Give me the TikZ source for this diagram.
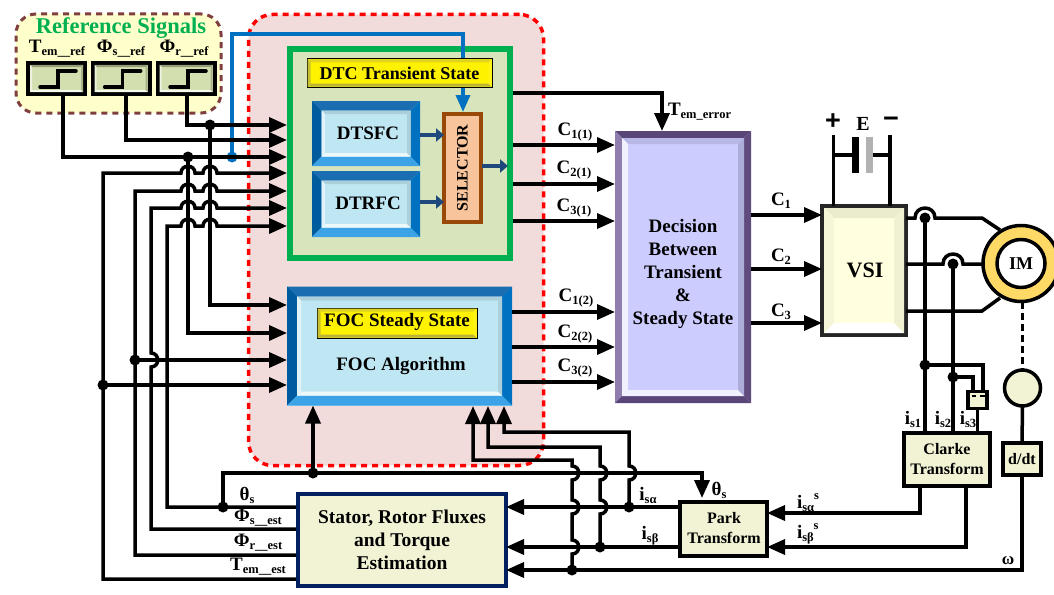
\documentclass[tikz,border=0pt]{standalone}
\usepackage{fontspec}
\setmainfont{Liberation Serif}
\newfontfamily\signfont{Liberation Sans}
\usetikzlibrary{arrows.meta}

\definecolor{zonepink}{HTML}{F2DCDB}
\definecolor{zonecream}{HTML}{FFFFCC}
\definecolor{zonebrown}{HTML}{7F3F3F}
\definecolor{dtcgreen}{HTML}{00B050}
\definecolor{dtcfill}{HTML}{D8E4BC}
\definecolor{stepfill}{HTML}{D3DFAE}
\definecolor{blockcream}{HTML}{F2F2D5}
\definecolor{navy}{HTML}{002060}
\definecolor{skyblue}{HTML}{BFE7F3}
\definecolor{midblue}{HTML}{0070C0}
\definecolor{topblue}{HTML}{1A6DB0}
\definecolor{leftblue}{HTML}{005A9E}
\definecolor{lowblue}{HTML}{3BA3E6}
\definecolor{darkblue}{HTML}{1F497D}
\definecolor{selfill}{HTML}{F8C49C}
\definecolor{selbrown}{HTML}{984807}
\definecolor{lilac}{HTML}{CCCCFF}
\definecolor{dectop}{HTML}{5A4578}
\definecolor{decleft}{HTML}{8F7DB0}
\definecolor{decright}{HTML}{5F4B7D}
\definecolor{ringgold}{HTML}{FFD966}
\definecolor{vsifill}{HTML}{FFFFE0}

\newcommand{\sigtxt}[2]{\mbox{\fontsize{19}{19}\selectfont\bfseries #1\raisebox{-3pt}{\fontsize{12.5}{12.5}\selectfont #2}}}
\newcommand{\hopx}[2]{-- (#1-7,#2) .. controls (#1-7,#2-9) and (#1+7,#2-9) .. (#1+7,#2)}
\newcommand{\hopr}[2]{-- (#1-10,#2) .. controls (#1-10,#2-13.3) and (#1+10,#2-13.3) .. (#1+10,#2)}
\newcommand{\hopy}[2]{-- (#1,#2+7) .. controls (#1+9,#2+7) and (#1+9,#2-7) .. (#1,#2-7)}
\newcommand{\bevel}[7]{%
\fill[#4] ([shift={(#2,#2)}]#1.north west) -- ([shift={(-#2,#2)}]#1.north east) -- ([shift={(-#3,#3)}]#1.north east) -- ([shift={(#3,#3)}]#1.north west) -- cycle;
\fill[#5] ([shift={(#2,#2)}]#1.north west) -- ([shift={(#2,-#2)}]#1.south west) -- ([shift={(#3,-#3)}]#1.south west) -- ([shift={(#3,#3)}]#1.north west) -- cycle;
\fill[#6] ([shift={(#2,-#2)}]#1.south west) -- ([shift={(-#2,-#2)}]#1.south east) -- ([shift={(-#3,-#3)}]#1.south east) -- ([shift={(#3,-#3)}]#1.south west) -- cycle;
\fill[#7] ([shift={(-#2,#2)}]#1.north east) -- ([shift={(-#2,-#2)}]#1.south east) -- ([shift={(-#3,-#3)}]#1.south east) -- ([shift={(-#3,#3)}]#1.north east) -- cycle;
}

\tikzset{
dims/.style args={#1x#2}{minimum width=#1pt,minimum height=#2pt},
box/.style={rectangle,inner sep=0pt,outer sep=0pt},
txt/.style={inner sep=0pt,outer sep=0pt,align=center,font=\fontsize{19}{23}\selectfont\bfseries},
wire/.style={line width=3.5pt},
wireto/.style={line width=3.5pt,-{Triangle[length=18pt,width=15pt]}},
jdot/.style={circle,fill=black,inner sep=0pt,outer sep=0pt,minimum size=11pt},
stepbox/.style={box,draw=black,line width=4pt,fill=stepfill,dims=57x31},
lightbox/.style={box,draw=black,line width=3.5pt,fill=blockcream},
bluebox/.style={box,fill=skyblue},
yellowbox/.style={box,draw=black,line width=1pt,fill=yellow},
steparrow/.style={line width=4pt,darkblue,-{Triangle[length=8pt,width=13pt]}}
}

\begin{document}
\begin{tikzpicture}[x=1pt,y=-1pt]
\useasboundingbox (0,0) rectangle (1054,594);

\node[box,dims=205x99,fill=zonecream,draw=zonebrown,line width=3pt,dash pattern=on 6pt off 5pt,rounded corners=20pt] (refzone) at (118.5,63.5) {};
\node[box,dims=295x451,fill=zonepink,draw=red,line width=3.5pt,dash pattern=on 6pt off 5pt,rounded corners=24pt] (foczone) at (396,240) {};

\node[txt,text=dtcgreen,font=\fontsize{22.5}{22.5}\selectfont\bfseries] (reftitle) at (121,28) {Reference Signals};
\node[txt] (tlabel) at (57,49) {\sigtxt{T}{em\_\_ref}};
\node[txt] (slabel) at (121,49) {\sigtxt{Φ}{s\_\_ref}};
\node[txt] (rlabel) at (184,49) {\sigtxt{Φ}{r\_\_ref}};
\node[stepbox] (tstep) at (56.5,78.5) {};
\node[stepbox] (sstep) at (121,78.5) {};
\node[stepbox] (rstep) at (186,78.5) {};
\foreach \s/\o in {tstep/0,sstep/64.7,rstep/130}{
\bevel{\s}{2}{4}{stepfill!70!black}{white!60!stepfill}{white!80!stepfill}{stepfill!80!black}
\draw[line width=3.5pt,line cap=round] (40+\o,87) -- (58+\o,87) -- (58+\o,71) -- (76+\o,71);
}

\coordinate (tout) at (63,96);
\coordinate (sout) at (126,96);
\coordinate (rout) at (187,96);
\foreach \n/\y in {in1/125,in2/140,in3/157,in4/173,in5/191,in6/208,in7/226}{\coordinate (\n) at (287,\y);}
\foreach \n/\y in {fin1/305,fin2/333,fin3/360,fin4/385}{\coordinate (\n) at (287,\y);}
\node[jdot] (jr) at (210,125) {};
\node[jdot] (jt) at (188,157) {};
\node[jdot,fill=midblue] (jblue) at (232,157) {};
\node[jdot] (jfl) at (135,360) {};
\node[jdot] (jte) at (103,385) {};
\node[jdot] (jth) at (223,507) {};
\node[jdot] (jtop) at (313,473) {};

\node[box,draw=dtcgreen,line width=6pt,fill=dtcfill,dims=220x209] (dtc) at (400,153.5) {};
\coordinate (selin) at (463,112);
\draw[line width=3.5pt,midblue,-{Triangle[length=17pt,width=14pt]}] (jblue.center) |- (463,34) -- (selin);
\node[yellowbox,dims=185x28] (dtclabel) at (399.5,73) {};
\bevel{dtclabel}{0.5}{3.5}{yellow!85!black}{yellow!75!black}{yellow!70!black}{yellow!90!white}
\node[txt,font=\fontsize{18}{18}\selectfont\bfseries] (dtctext) at (399.5,73) {DTC Transient State};

\node[bluebox,dims=108x65] (dtsfc) at (366,133.5) {};
\node[bluebox,dims=108x66] (dtrfc) at (366,204) {};
\foreach \b in {dtsfc,dtrfc}{
\bevel{\b}{0}{9.5}{topblue}{leftblue}{lowblue}{midblue}
\bevel{\b}{9.5}{13}{skyblue!90!black}{white!50!skyblue}{white!70!skyblue}{skyblue!90!black}
}
\node[txt] (dtsfctext) at (368,133) {DTSFC};
\node[txt] (dtrfctext) at (368,203) {DTRFC};
\node[box,draw=selbrown,line width=4pt,fill=selfill,dims=37x108] (sel) at (462.5,168) {};
\node[txt,rotate=90,font=\fontsize{16}{16}\selectfont\bfseries] (seltext) at (462.5,168) {SELECTOR};
\coordinate (dtsfcout) at (420,135);
\coordinate (dtrfcout) at (420,202);
\coordinate (selout) at (482,166);
\draw[steparrow] (dtsfcout) -- (dtsfcout -| sel.west);
\draw[steparrow] (dtrfcout) -- (dtrfcout -| sel.west);
\draw[steparrow] (selout) -- (508,166);

\node[bluebox,dims=225x119] (foc) at (399.5,346) {};
\bevel{foc}{0}{10}{topblue}{leftblue}{lowblue}{midblue}
\bevel{foc}{10}{14}{skyblue!90!black}{white!50!skyblue}{white!70!skyblue}{skyblue!90!black}
\node[yellowbox,dims=160x30] (foclabel) at (397,323) {};
\bevel{foclabel}{0.5}{3.5}{yellow!85!black}{yellow!75!black}{yellow!70!black}{yellow!90!white}
\node[txt] (foclabeltext) at (397,322) {FOC Steady State};
\node[txt] (foctext) at (401,366) {FOC Algorithm};

\node[box,fill=lilac,dims=136x272] (dec) at (683,267) {};
\bevel{dec}{0}{7}{dectop}{decleft}{dectop}{decright}
\bevel{dec}{7}{13}{lilac!90!black}{white!70!lilac}{white!70!lilac}{lilac!85!black}
\node[txt] (dectext) at (683,274) {Decision\\Between\\Transient\\\&\\Steady State};

\node[box,draw=black!85,line width=4pt,fill=vsifill,dims=84x129] (vsi) at (864,270.5) {};
\bevel{vsi}{2}{12}{vsifill!92!black}{vsifill!96!black}{white}{vsifill!94!black}
\node[txt,font=\fontsize{22}{22}\selectfont\bfseries] (vsitext) at (865,270) {VSI};

\node[box,draw=navy,line width=4pt,fill=blockcream,dims=208x92] (est) at (402,540) {};
\node[txt,font=\fontsize{19.5}{23}\selectfont\bfseries] (esttext) at (402,540) {Stator, Rotor Fluxes\\and Torque\\Estimation};
\node[lightbox,dims=87x54] (park) at (723.5,529) {};
\node[txt,font=\fontsize{16}{20}\selectfont\bfseries] (parktext) at (724,528) {Park\\Transform};
\node[lightbox,dims=86x53] (clarke) at (947,459.5) {};
\node[txt,font=\fontsize{16}{20}\selectfont\bfseries] (clarketext) at (947,459) {Clarke\\Transform};
\node[lightbox,dims=38x32] (ddt) at (1022,459) {};
\node[txt,font=\fontsize{16}{16}\selectfont\bfseries] (ddttext) at (1022,459) {d/dt};
\node[lightbox,dims=19x17] (sensor) at (977.5,400) {};
\node[lightbox,line width=3.5pt,shape=circle,minimum size=36pt] (tacho) at (1022.5,388) {};

\draw[wireto] (rout) |- (in1);
\draw[wireto] (sout) |- (in2);
\draw[wireto] (tout) |- (in3);

\coordinate (estth) at (296,507);
\coordinate (estfs) at (296,529);
\coordinate (estfr) at (296,555);
\coordinate (estte) at (296,579);
\draw[wireto] (estte) -| (103,173) \hopx{188}{173} \hopx{210}{173} -- (in4);
\draw[wireto] (estfr) -| (135,191) \hopx{188}{191} \hopx{210}{191} -- (in5);
\draw[wireto] (estfs) -| (151,371) \hopy{151}{360} -- (151,208) \hopx{188}{208} \hopx{210}{208} -- (in6);
\draw[wireto] (estth) -| (167,226) \hopx{188}{226} \hopx{210}{226} -- (in7);
\draw[wireto] (jr.center) |- (fin1);
\draw[wireto] (jt.center) |- (fin2);
\draw[wireto] (jfl.center) -- (fin3);
\draw[wireto] (jte.center) -- (fin4);
\coordinate (parktop) at (702,498);
\draw[wireto] (jth.center) |- (parktop |- jtop) -- (parktop);
\draw[wireto] (jtop.center) -- (jtop |- foc.south);

\coordinate (dtcout) at (513,93);
\coordinate (decin) at (662,131);
\draw[wireto] (dtcout) -| (decin);
\foreach \n/\y in {c11/145,c21/184,c31/221}{
\coordinate (\n) at (513,\y);
\draw[wireto] (\n) -- (\n -| dec.west);
}
\foreach \n/\y in {c12/312,c22/347,c32/382}{
\coordinate (\n) at (512,\y);
\draw[wireto] (\n) -- (\n -| dec.west);
}
\foreach \n/\y in {c1/215,c2/269,c3/323}{
\coordinate (\n) at (751,\y);
\draw[wireto] (\n) -- (\n -| vsi.west);
}

\node[txt] (c11label) at (575,132) {\sigtxt{C}{1(1)}};
\node[txt] (c21label) at (574,170) {\sigtxt{C}{2(1)}};
\node[txt] (c31label) at (574,208) {\sigtxt{C}{3(1)}};
\node[txt] (c12label) at (576,298) {\sigtxt{C}{1(2)}};
\node[txt] (c22label) at (575,334) {\sigtxt{C}{2(2)}};
\node[txt] (c32label) at (575,368) {\sigtxt{C}{3(2)}};
\node[txt] (c1label) at (781,201) {\sigtxt{C}{1}};
\node[txt] (c2label) at (781,257) {\sigtxt{C}{2}};
\node[txt] (c3label) at (781,312) {\sigtxt{C}{3}};
\node[txt,anchor=west] (errlabel) at (668,112) {\sigtxt{T}{em\_error}};

\node[txt] (thlabel) at (247,495) {\sigtxt{θ}{s}};
\node[txt] (fslabel) at (258,518) {\sigtxt{Φ}{s\_\_est}};
\node[txt] (frlabel) at (258,543) {\sigtxt{Φ}{r\_\_est}};
\node[txt] (telabel) at (258,567) {\sigtxt{T}{em\_\_est}};

\coordinate (parka) at (678,507);
\coordinate (parkb) at (678,547);
\coordinate (estw) at (508,570);
\draw[wireto] (parka) -- (parka -| est.east);
\draw[wireto] (parkb) -- (parkb -| est.east);
\node[jdot] (ja) at (629,507) {};
\node[jdot] (jb) at (600,547) {};
\node[jdot] (jw) at (572,570) {};
\draw[wireto] (ja.center) \hopy{629}{473} -- (629,432) -| (504,406);
\draw[wireto] (jb.center) \hopy{600}{507} \hopy{600}{473} -- (600,447) -| (488,406);
\draw[wireto] (jw.center) \hopy{572}{547} \hopy{572}{507} \hopy{572}{473} -- (572,460) -| (473,406);

\node[txt] (alabel) at (648,495) {\sigtxt{i}{sα}};
\node[txt] (blabel) at (650,536) {\sigtxt{i}{sβ}};
\node[txt] (thplabel) at (719,490) {\sigtxt{θ}{s}};
\node[txt,anchor=west] (aslabel) at (797,503) {\sigtxt{i}{sα}\raisebox{9pt}{\fontsize{12.5}{12.5}\selectfont s}};
\node[txt,anchor=west] (bslabel) at (797,534) {\sigtxt{i}{sβ}\raisebox{9pt}{\fontsize{12.5}{12.5}\selectfont s}};
\node[txt,font=\fontsize{17}{17}\selectfont\bfseries] (wlabel) at (1008,561) {ω};

\coordinate (clka) at (920,488);
\coordinate (clkb) at (966,488);
\coordinate (ddtout) at (1022,477);
\draw[wireto] (clka) |- (park.east |- 769,513);
\draw[wireto] (clkb) |- (park.east |- 769,547);
\draw[wireto] (ddtout) |- (estw -| est.east);

\coordinate (pos) at (833.5,135);
\coordinate (neg) at (890,135);
\node[box,fill=black,dims=7x36] (platea) at (855.5,155) {};
\node[box,fill=black!30,dims=7x36] (plateb) at (869.5,155) {};
\draw[wire] (pos) -- (pos |- vsi.north);
\draw[wire] (neg) -- (neg |- vsi.north);
\draw[wire] (pos |- platea) -- (platea);
\draw[wire] (neg |- plateb) -- (plateb);
\node[txt,font=\fontsize{27}{27}\signfont\bfseries] (poslabel) at (833,122) {+};
\node[txt,font=\fontsize{27}{27}\signfont\bfseries] (neglabel) at (891,122) {−};
\node[txt,font=\fontsize{20}{20}\selectfont\bfseries] (elabel) at (863,124) {E};

\coordinate (mota) at (1000,230);
\coordinate (motc) at (1000,298);
\node[jdot] (js1) at (925,218) {};
\node[jdot] (js2) at (953,264) {};
\node[jdot] (js3) at (925,365) {};
\node[jdot] (js4) at (953,377) {};
\draw[wire] (vsi.east |- js1) \hopr{925}{218} -- (982,218) -- (mota);
\draw[wire] (vsi.east |- js2) \hopr{953}{264} -- (990,264);
\draw[wire] (vsi.east |- 0,311) -- (982,311) -- (motc);
\draw[wire] (js1.center) -- (js1 |- clarke.north);
\draw[wire] (js2.center) -- (js2 |- clarke.north);
\draw[wire] (js3.center) -| (983,391);
\draw[wire] (js4.center) -| (973,391);
\draw[wire] (sensor.south) -- (sensor.south |- clarke.north);
\draw[line width=1.5pt] (972,396) -- (976,396) (980,396) -- (985,396);
\node[txt] (s1label) at (913,419) {\sigtxt{i}{s1}};
\node[txt] (s2label) at (943,419) {\sigtxt{i}{s2}};
\node[txt] (s3label) at (968,419) {\sigtxt{i}{s3}};

\node[circle,draw=black,line width=3.5pt,fill=ringgold,minimum size=76pt,inner sep=0pt] (motor) at (1021,263.5) {};
\node[circle,draw=black,line width=3.5pt,fill=white,minimum size=48pt,inner sep=0pt] (rotor) at (1021,263.5) {};
\node[txt,font=\fontsize{18}{18}\selectfont\bfseries] (imlabel) at (1021,263.5) {IM};
\draw[wire,dashed,dash pattern=on 7pt off 4pt] (1022.5,302) -- (tacho.north);
\draw[wire] (tacho.south) -- (ddt.north);
\end{tikzpicture}
\end{document}
